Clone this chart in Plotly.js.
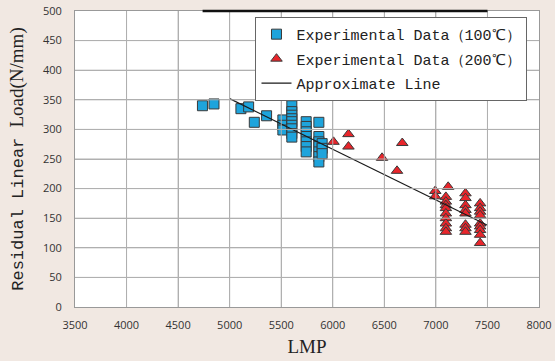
<!DOCTYPE html>
<html>
<head>
<meta charset="utf-8">
<script src="https://cdn.plot.ly/plotly-3.0.1.min.js"></script>
<style>html,body{margin:0;padding:0;background:#f1e8e2;}</style>
</head>
<body>
<div id="chart" style="width:555px;height:361px;"></div>
<script>
// Experimental data, 100°C
const lmp100 = [4736, 4848, 5109, 5184, 5239, 5358,
  5516, 5516, 5516,
  5603, 5603, 5603, 5603, 5603, 5603, 5603, 5603, 5603,
  5742, 5742, 5742, 5742, 5742, 5742, 5742,
  5865, 5865, 5865, 5865, 5865, 5865, 5865,
  5897, 5897, 5897];
const load100 = [340, 343, 335, 338, 312, 323,
  316, 307, 299,
  340, 330, 324, 318, 313, 307, 301, 293, 287,
  313, 305, 296, 288, 279, 271, 262,
  312, 288, 279, 271, 262, 254, 245,
  276, 268, 259];

// Experimental data, 200°C
const lmp200 = [6007, 6152, 6152, 6478, 6623, 6674,
  6994, 6994, 7119,
  7097, 7097, 7097, 7097, 7097, 7097, 7097, 7097, 7097,
  7287, 7287, 7287, 7287, 7287, 7287, 7287, 7287,
  7429, 7429, 7429, 7429, 7429, 7429, 7429, 7429, 7429];
const load200 = [279, 292, 271, 252, 230, 277,
  196, 187, 203,
  186, 178, 172, 167, 158, 150, 141, 133, 127,
  192, 184, 172, 164, 158, 139, 133, 127,
  175, 167, 161, 155, 141, 136, 130, 122, 108];

// Approximate line
const lineLmp = [5000, 7500];
const lineLoad = [352, 138];

const xTicks = [3500, 4000, 4500, 5000, 5500, 6000, 6500, 7000, 7500, 8000];
const yTicks = [0, 50, 100, 150, 200, 250, 300, 350, 400, 450, 500];

const mono = '"Liberation Mono", "DejaVu Sans Mono", monospace';
const tickFont = {family: '"Open Sans", "DejaVu Sans", sans-serif', size: 11, color: '#333333'};
const gridColor = '#b0b0b0';

const xMin = xTicks[0], xMax = xTicks[xTicks.length - 1];
const yMin = yTicks[0], yMax = yTicks[yTicks.length - 1];

// Grid lines as paper-referenced shapes, positions derived from the tick arrays
const gridShapes = []
  .concat(xTicks.slice(1, -1).map(v => {
    const f = (v - xMin) / (xMax - xMin);
    return {type: 'line', xref: 'paper', yref: 'paper', x0: f, x1: f, y0: 0, y1: 1,
            line: {color: gridColor, width: 1}};
  }))
  .concat(yTicks.slice(1, -1).map(v => {
    const f = (v - yMin) / (yMax - yMin);
    return {type: 'line', xref: 'paper', yref: 'paper', x0: 0, x1: 1, y0: f, y1: f,
            line: {color: gridColor, width: 1}};
  }));

const traces = [
  {
    x: lmp100, y: load100, type: 'scatter', mode: 'markers',
    name: 'Experimental Data（100℃）', legendgroup: 'a',
    marker: {symbol: 'square', size: 10, color: '#1ea4dc', line: {color: '#3a3a3a', width: 1}}
  },
  {
    x: lmp200, y: load200, type: 'scatter', mode: 'markers',
    name: 'Experimental Data（200℃）', legendgroup: 'b',
    marker: {symbol: 'triangle-up', size: 10, color: '#e8252b', line: {color: '#3a3a3a', width: 1}}
  },
  {
    x: lineLmp, y: lineLoad, type: 'scatter', mode: 'lines',
    name: 'Approximate Line', legendgroup: 'c',
    line: {color: '#1a1a1a', width: 1.2}
  }
];

const layout = {
  width: 555, height: 361,
  margin: {l: 75, r: 16, t: 11, b: 54},
  paper_bgcolor: '#f1e8e2',
  plot_bgcolor: '#ffffff',
  showlegend: true,
  legend: {
    x: 0.389, y: 0.98, xanchor: 'left', yanchor: 'top',
    bgcolor: '#ffffff', bordercolor: '#666666', borderwidth: 1,
    font: {family: mono, size: 15, color: '#222222'},
    tracegroupgap: 2, itemwidth: 30
  },
  xaxis: {
    range: [xMin, xMax], tickmode: 'array', tickvals: xTicks, ticktext: xTicks.map(String),
    showgrid: true, gridcolor: gridColor, gridwidth: 1,
    showline: true, linecolor: '#999999', linewidth: 1, mirror: true,
    zeroline: false, ticks: 'outside', ticklen: 8, tickcolor: 'rgba(0,0,0,0)',
    tickfont: tickFont,
    title: {text: 'LMP', font: {family: '"Liberation Serif", "DejaVu Serif", serif', size: 19, color: '#222222'}, standoff: 8}
  },
  yaxis: {
    range: [yMin, yMax], tickmode: 'array', tickvals: yTicks, ticktext: yTicks.map(String),
    showgrid: true, gridcolor: gridColor, gridwidth: 1,
    showline: true, linecolor: '#999999', linewidth: 1, mirror: true,
    zeroline: false, ticks: 'outside', ticklen: 10, tickcolor: 'rgba(0,0,0,0)',
    tickfont: tickFont,
    title: {text: 'Residual Linear <span style="font-family:Liberation Serif;font-size:19px">Load(N/mm)</span>',
            font: {family: mono, size: 17, color: '#222222'}, standoff: 14}
  },
  shapes: gridShapes.concat([
    {type: 'line', xref: 'paper', yref: 'paper', x0: 0.275, x1: 0.889, y0: 1, y1: 1,
     line: {color: '#111111', width: 2.5}}
  ])
};

Plotly.newPlot('chart', traces, layout, {displayModeBar: false});
</script>
</body>
</html>
